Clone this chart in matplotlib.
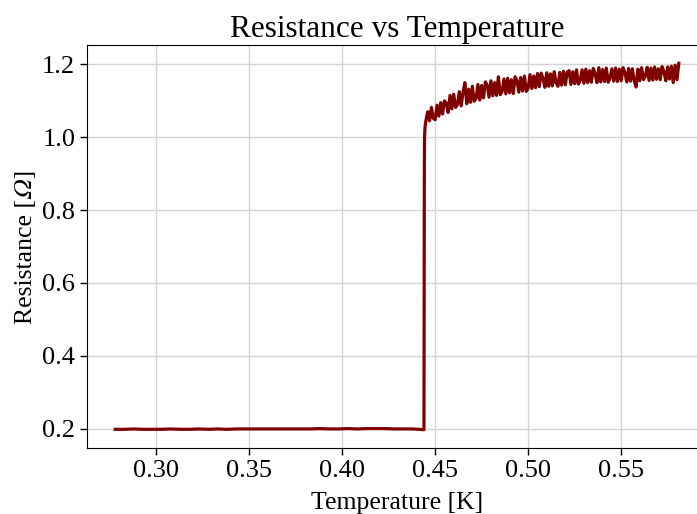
import matplotlib
matplotlib.use("Agg")
import numpy as np
import matplotlib.pyplot as plt

plt.rcParams["font.family"] = "serif"
plt.rcParams["font.serif"] = ["Liberation Serif", "DejaVu Serif"]
plt.rcParams["mathtext.fontset"] = "stix"

# ---- superconducting (flat) part ----
temp_low = [0.278, 0.283, 0.288, 0.293, 0.298, 0.303, 0.308, 0.313, 0.318, 0.323,
            0.328, 0.333, 0.338, 0.343, 0.348, 0.353, 0.358, 0.363, 0.368, 0.373,
            0.378, 0.383, 0.388, 0.393, 0.398, 0.403, 0.408, 0.413, 0.418, 0.423,
            0.428, 0.433, 0.438, 0.4435]
res_low = [0.198, 0.198, 0.199, 0.198, 0.198, 0.198, 0.199, 0.198, 0.198, 0.199,
           0.198, 0.199, 0.198, 0.199, 0.199, 0.199, 0.199, 0.199, 0.199, 0.199,
           0.199, 0.199, 0.200, 0.199, 0.199, 0.200, 0.199, 0.200, 0.200, 0.200,
           0.199, 0.199, 0.199, 0.197]

# ---- transition ----
temp_step = [0.4440, 0.4441, 0.4442, 0.4443, 0.4446, 0.4452]
res_step = [0.197, 0.550, 0.920, 1.000, 1.030, 1.050]

# ---- normal state (noisy) ----
temp_high = [0.446, 0.447, 0.448, 0.449, 0.450, 0.451, 0.452, 0.453, 0.454, 0.455,
             0.456, 0.457, 0.458, 0.459, 0.460, 0.461, 0.462, 0.463, 0.464, 0.465,
             0.466, 0.467, 0.468, 0.469, 0.470, 0.471, 0.472, 0.473, 0.474, 0.475,
             0.476, 0.477, 0.478, 0.479, 0.480, 0.481, 0.482, 0.483, 0.484, 0.485,
             0.486, 0.487, 0.488, 0.489, 0.490, 0.491, 0.492, 0.493, 0.494, 0.495,
             0.496, 0.497, 0.498, 0.499, 0.500, 0.501, 0.502, 0.503, 0.504, 0.505,
             0.506, 0.507, 0.508, 0.509, 0.510, 0.511, 0.512, 0.513, 0.514, 0.515,
             0.516, 0.517, 0.518, 0.519, 0.520, 0.521, 0.522, 0.523, 0.524, 0.525,
             0.526, 0.527, 0.528, 0.529, 0.530, 0.531, 0.532, 0.533, 0.534, 0.535,
             0.536, 0.537, 0.538, 0.539, 0.540, 0.541, 0.542, 0.543, 0.544, 0.545,
             0.546, 0.547, 0.548, 0.549, 0.550, 0.551, 0.552, 0.553, 0.554, 0.555,
             0.556, 0.557, 0.558, 0.559, 0.560, 0.561, 0.562, 0.563, 0.564, 0.565,
             0.566, 0.567, 0.568, 0.569, 0.570, 0.571, 0.572, 0.573, 0.574, 0.575,
             0.576, 0.577, 0.578, 0.579, 0.580, 0.581]
res_high = [1.070, 1.045, 1.082, 1.052, 1.048, 1.088, 1.058, 1.095, 1.064, 1.100,
            1.094, 1.068, 1.115, 1.078, 1.118, 1.082, 1.090, 1.125, 1.086, 1.124,
            1.150, 1.092, 1.132, 1.096, 1.140, 1.099, 1.106, 1.145, 1.102, 1.142,
            1.108, 1.152, 1.143, 1.110, 1.155, 1.114, 1.150, 1.115, 1.166, 1.117,
            1.126, 1.160, 1.119, 1.162, 1.122, 1.158, 1.120, 1.166, 1.155, 1.124,
            1.164, 1.127, 1.168, 1.126, 1.134, 1.172, 1.134, 1.168, 1.136, 1.175,
            1.139, 1.176, 1.162, 1.137, 1.177, 1.140, 1.174, 1.141, 1.180, 1.150,
            1.140, 1.178, 1.143, 1.181, 1.144, 1.178, 1.183, 1.145, 1.180, 1.147,
            1.185, 1.146, 1.156, 1.185, 1.148, 1.187, 1.150, 1.183, 1.151, 1.189,
            1.175, 1.150, 1.191, 1.152, 1.186, 1.153, 1.190, 1.151, 1.162, 1.188,
            1.154, 1.190, 1.153, 1.187, 1.155, 1.191, 1.178, 1.152, 1.189, 1.154,
            1.188, 1.156, 1.138, 1.187, 1.155, 1.191, 1.158, 1.168, 1.192, 1.156,
            1.190, 1.157, 1.193, 1.159, 1.188, 1.158, 1.194, 1.180, 1.155, 1.193,
            1.160, 1.195, 1.150, 1.198, 1.158, 1.203]

temperature = np.array(temp_low + temp_step + temp_high)
resistance = np.array(res_low + res_step + res_high)

fig = plt.figure(figsize=(6.97, 5.14), dpi=100)
ax = fig.add_axes([87 / 697, 66 / 514, 620 / 697, 403 / 514])

ax.plot(temperature, resistance, color="#800000", linewidth=2.3)

ax.grid(True, color="#d4d4d4", linewidth=1)
ax.set_axisbelow(True)
ax.set_xticks([0.30, 0.35, 0.40, 0.45, 0.50, 0.55])
ax.set_yticks([0.2, 0.4, 0.6, 0.8, 1.0, 1.2])
ax.tick_params(labelsize=19, length=5, width=1)

ax.set_title("Resistance vs Temperature", fontsize=22.5)
ax.set_xlabel("Temperature [K]", fontsize=18.5, labelpad=7)
# italic capital omega (math italic code point), STIX as fallback for the glyph
ax.set_ylabel("Resistance [\U0001D6FA]", fontsize=18.5,
              family=["Liberation Serif", "STIXGeneral", "DejaVu Serif"])

fig.savefig("out.png", dpi=100)
